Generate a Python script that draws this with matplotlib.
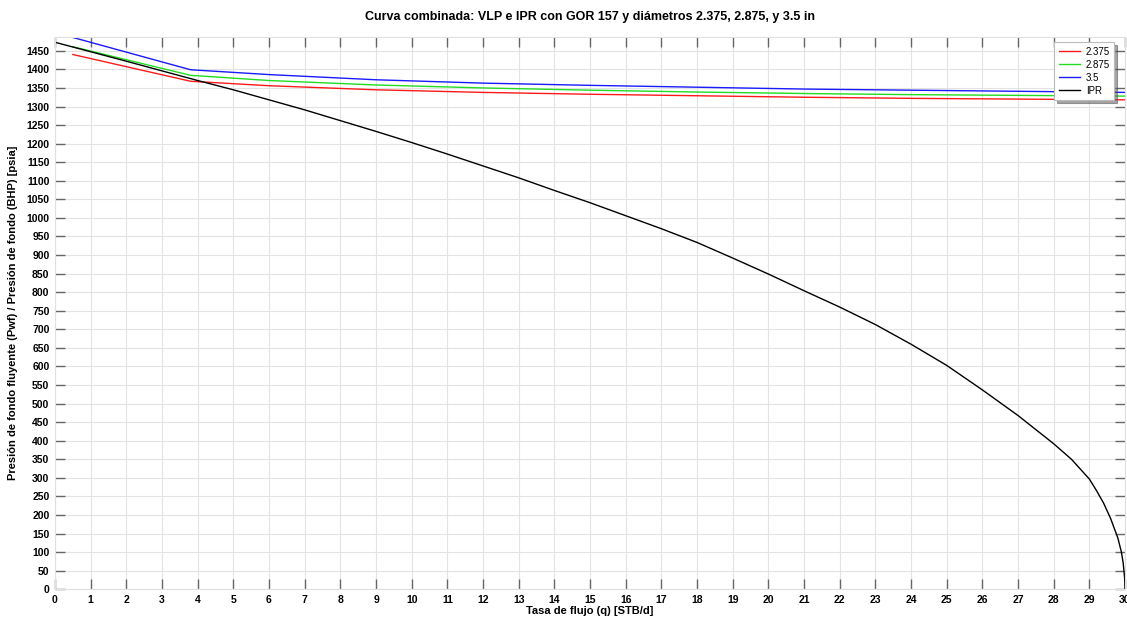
import matplotlib.pyplot as plt

plt.rcParams['font.family'] = ['Liberation Sans', 'DejaVu Sans']

# IPR curve
q_ipr = [0, 2, 4, 5, 6, 7, 8, 9, 10, 11, 12, 13, 14, 15, 16, 17, 18, 19, 20,
         21, 22, 23, 24, 25, 26, 27, 28, 28.5, 29, 29.2, 29.4, 29.6, 29.8,
         29.9, 29.95, 29.99, 30]
p_ipr = [1473, 1422, 1370, 1345, 1318, 1291, 1262, 1233, 1203, 1172, 1140,
         1108, 1074, 1041, 1006, 971, 934, 892, 849, 804, 760, 713, 660, 603,
         537, 468, 392, 350, 297, 266, 232, 190, 138, 100, 70, 30, 0]

# VLP curves for each tubing diameter
q_vlp = [0.5, 3.8, 6, 9, 12, 15, 18, 21, 24, 27, 30]
p_2375 = [1440, 1368, 1356, 1345, 1338, 1333, 1329, 1325, 1322, 1320, 1318]
p_2875 = [1461, 1384, 1370, 1358, 1350, 1344, 1339, 1335, 1332, 1330, 1328]
p_35 = [1486, 1399, 1386, 1372, 1363, 1357, 1352, 1347, 1344, 1341, 1338]

fig = plt.figure(figsize=(11.27, 6.19), dpi=100)
ax = fig.add_axes([55 / 1127, 1 - 589.3 / 619, (1125 - 55) / 1127, (589.3 - 36.7) / 619])

ax.plot(q_vlp, p_2375, color='#ff1a1a', lw=1.0, label='2.375')
ax.plot(q_vlp, p_2875, color='#22dd22', lw=1.0, label='2.875')
ax.plot(q_vlp, p_35, color='#1a1aff', lw=1.0, label='3.5')
ax.plot(q_ipr, p_ipr, color='black', lw=1.0, label='IPR')

ax.set_xlim(0, 30)
ax.set_ylim(0, 1488)
ax.set_xticks(range(0, 31))
ax.set_yticks(range(0, 1451, 50))
ax.grid(True, color='#e3e3e3', lw=0.8)
ax.set_axisbelow(True)
ax.tick_params(direction='in', length=7, width=1.0, color='#666666',
               top=True, right=True, labelsize=7.5, pad=4)
for lab in ax.get_xticklabels() + ax.get_yticklabels():
    lab.set_fontweight('bold')
for s in ax.spines.values():
    s.set_color('#e0e0e0')
    s.set_linewidth(0.8)

ax.set_title('Curva combinada: VLP e IPR con GOR 157 y diámetros 2.375, 2.875, y 3.5 in',
             fontsize=9, fontweight='bold', pad=12)
ax.set_xlabel('Tasa de flujo (q) [STB/d]', fontsize=8, fontweight='bold', labelpad=1)
ax.set_ylabel('Presión de fondo fluyente (Pwf) / Presión de fondo (BHP) [psia]',
              fontsize=8, fontweight='bold', labelpad=6)

leg = ax.legend(loc='upper right', fontsize=7, frameon=True, fancybox=False,
                shadow=True, handlelength=2.2, borderpad=0.45, labelspacing=0.3,
                handletextpad=0.6, bbox_to_anchor=(0.9945, 0.9985))
leg.get_frame().set_edgecolor('#bbbbbb')
leg.get_frame().set_linewidth(0.8)

fig.savefig('out.png', dpi=100)
